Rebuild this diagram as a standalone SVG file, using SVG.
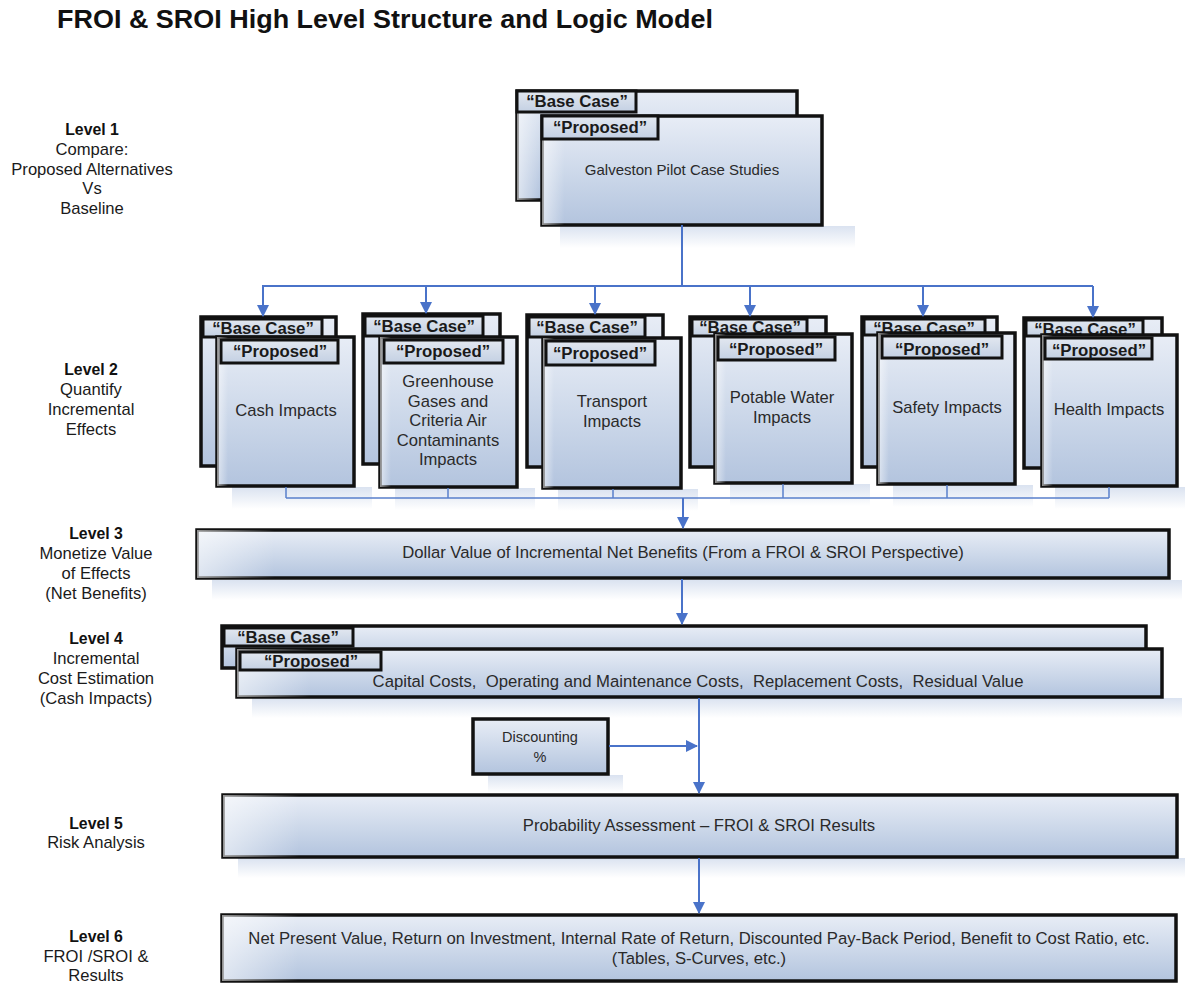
<svg xmlns="http://www.w3.org/2000/svg" width="1185" height="983" viewBox="0 0 1185 983">
  <defs>
    <linearGradient id="boxFill" x1="0" y1="0" x2="0" y2="1">
      <stop offset="0" stop-color="#e8edf6"/>
      <stop offset="0.55" stop-color="#cbd7e9"/>
      <stop offset="1" stop-color="#b3c4de"/>
    </linearGradient>
    <linearGradient id="tabFill" x1="0" y1="0" x2="0" y2="1">
      <stop offset="0" stop-color="#e3e8f0"/>
      <stop offset="1" stop-color="#c3d0e3"/>
    </linearGradient>
    <linearGradient id="edgeGlow" x1="0" y1="0" x2="1" y2="0">
      <stop offset="0" stop-color="#ffffff" stop-opacity="0.55"/>
      <stop offset="0.08" stop-color="#ffffff" stop-opacity="0"/>
    </linearGradient>
    <linearGradient id="reflect" x1="0" y1="0" x2="0" y2="1">
      <stop offset="0" stop-color="#bccbe4" stop-opacity="0.55"/>
      <stop offset="1" stop-color="#bccbe4" stop-opacity="0"/>
    </linearGradient>
    <marker id="arrow" viewBox="0 0 12 12" refX="11" refY="6" markerWidth="12" markerHeight="12" markerUnits="userSpaceOnUse" orient="auto">
      <path d="M0,0 L12,6 L0,12 Z" fill="#4a73c9"/>
    </marker>
    <style>
      .box { fill: url(#boxFill); stroke: #111; stroke-width: 3.5; }
      .tab { fill: url(#tabFill); stroke: #111; stroke-width: 3; }
      .glow { fill: url(#edgeGlow); stroke: none; }
      .refl { fill: url(#reflect); stroke: none; }
      .tabtxt { font-family: "Liberation Sans", Arial, sans-serif; font-weight: bold; font-size: 16.8px; fill: #1a1a1a; text-anchor: middle; }
      .txt { font-family: "Liberation Sans", Arial, sans-serif; font-size: 16.6px; fill: #2a2a2a; text-anchor: middle; }
      .txt15 { font-family: "Liberation Sans", Arial, sans-serif; font-size: 15px; fill: #2a2a2a; text-anchor: middle; white-space: pre; }
      .txtw { font-family: "Liberation Sans", Arial, sans-serif; font-size: 16.7px; fill: #2a2a2a; text-anchor: middle; white-space: pre; }
      .lbl { font-family: "Liberation Sans", Arial, sans-serif; font-size: 16.6px; fill: #1a1a1a; text-anchor: middle; }
      .lblb { font-family: "Liberation Sans", Arial, sans-serif; font-size: 15.8px; font-weight: bold; fill: #111; text-anchor: middle; }
      .title { font-family: "Liberation Sans", Arial, sans-serif; font-size: 25px; font-weight: bold; fill: #111; }
      .conn { fill: none; stroke: #4a73c9; stroke-width: 2; }
      .conn-thin { fill: none; stroke: #5a80cc; stroke-width: 1.5; }
    </style>
  </defs>

  <rect width="1185" height="983" fill="#ffffff"/>

  <text class="title" x="57" y="28" textLength="656" lengthAdjust="spacingAndGlyphs">FROI &amp; SROI High Level Structure and Logic Model</text>

  <!-- level captions on the left -->
  <g id="captions">
    <text class="lblb" x="92" y="135">Level 1</text>
    <text class="lbl" x="92" y="155">Compare:</text>
    <text class="lbl" x="92" y="175">Proposed Alternatives</text>
    <text class="lbl" x="92" y="194">Vs</text>
    <text class="lbl" x="92" y="214">Baseline</text>

    <text class="lblb" x="91" y="375">Level 2</text>
    <text class="lbl" x="91" y="395">Quantify</text>
    <text class="lbl" x="91" y="415">Incremental</text>
    <text class="lbl" x="91" y="435">Effects</text>

    <text class="lblb" x="96" y="539">Level 3</text>
    <text class="lbl" x="96" y="559">Monetize Value</text>
    <text class="lbl" x="96" y="579">of Effects</text>
    <text class="lbl" x="96" y="599">(Net Benefits)</text>

    <text class="lblb" x="96" y="644">Level 4</text>
    <text class="lbl" x="96" y="664">Incremental</text>
    <text class="lbl" x="96" y="684">Cost Estimation</text>
    <text class="lbl" x="96" y="704">(Cash Impacts)</text>

    <text class="lblb" x="96" y="829">Level 5</text>
    <text class="lbl" x="96" y="848">Risk Analysis</text>

    <text class="lblb" x="96" y="942">Level 6</text>
    <text class="lbl" x="96" y="962">FROI /SROI &amp;</text>
    <text class="lbl" x="96" y="981">Results</text>
  </g>

  <!-- soft reflections under the boxes -->
  <g id="reflections">
    <rect class="refl" x="560" y="226" width="295" height="22"/>
    <rect class="refl" x="232" y="487" width="140" height="22"/>
    <rect class="refl" x="395" y="488" width="140" height="22"/>
    <rect class="refl" x="558" y="489" width="140" height="22"/>
    <rect class="refl" x="730" y="484" width="140" height="22"/>
    <rect class="refl" x="893" y="485" width="140" height="22"/>
    <rect class="refl" x="1055" y="487" width="130" height="22"/>
    <rect class="refl" x="212" y="580" width="970" height="20"/>
    <rect class="refl" x="252" y="698" width="930" height="20"/>
    <rect class="refl" x="488" y="775" width="135" height="18"/>
    <rect class="refl" x="238" y="858" width="947" height="20"/>
  </g>

  <!-- Level 1 -->
  <g id="level1">
    <rect class="box" x="517" y="91" width="280" height="109"/>
    <rect class="glow" x="517" y="91" width="280" height="109"/>
    <rect class="tab" x="517" y="91" width="119" height="21"/>
    <text class="tabtxt" x="577" y="107">“Base Case”</text>
    <rect class="box" x="542" y="116" width="280" height="109"/>
    <rect class="glow" x="542" y="116" width="280" height="109"/>
    <rect class="tab" x="542" y="116" width="116" height="23"/>
    <text class="tabtxt" x="600" y="133">“Proposed”</text>
    <text class="txt15" x="682" y="175">Galveston Pilot Case Studies</text>
  </g>

  <!-- Level 2: impact categories -->
  <g id="cash">
    <rect class="box" x="201" y="317" width="135" height="149"/>
    <rect class="tab" x="203" y="319" width="119" height="18"/>
    <text class="tabtxt" x="263" y="334">“Base Case”</text>
    <rect class="box" x="217" y="337" width="137" height="149"/>
    <rect class="glow" x="217" y="337" width="137" height="149"/>
    <rect class="tab" x="221" y="340" width="117" height="23"/>
    <text class="tabtxt" x="280" y="357">“Proposed”</text>
    <text class="txt" x="286" y="416">Cash Impacts</text>
  </g>

  <g id="ghg">
    <rect class="box" x="363" y="314" width="137" height="150"/>
    <rect class="tab" x="365" y="316" width="118" height="20"/>
    <text class="tabtxt" x="424" y="332">“Base Case”</text>
    <rect class="box" x="380" y="337" width="137" height="150"/>
    <rect class="glow" x="380" y="337" width="137" height="150"/>
    <rect class="tab" x="384" y="340" width="119" height="23"/>
    <text class="tabtxt" x="443" y="357">“Proposed”</text>
    <text class="txt" x="448" y="387">Greenhouse</text>
    <text class="txt" x="448" y="407">Gases and</text>
    <text class="txt" x="448" y="426">Criteria Air</text>
    <text class="txt" x="448" y="446">Contaminants</text>
    <text class="txt" x="448" y="465">Impacts</text>
  </g>

  <g id="transport">
    <rect class="box" x="527" y="315" width="136" height="152"/>
    <rect class="tab" x="529" y="317" width="116" height="20"/>
    <text class="tabtxt" x="587" y="333">“Base Case”</text>
    <rect class="box" x="543" y="338" width="138" height="150"/>
    <rect class="glow" x="543" y="338" width="138" height="150"/>
    <rect class="tab" x="546" y="341" width="109" height="24"/>
    <text class="tabtxt" x="600" y="359">“Proposed”</text>
    <text class="txt" x="612" y="407">Transport</text>
    <text class="txt" x="612" y="427">Impacts</text>
  </g>

  <g id="water">
    <rect class="box" x="690" y="317" width="136" height="150"/>
    <rect class="tab" x="692" y="319" width="115" height="17"/>
    <text class="tabtxt" x="750" y="333">“Base Case”</text>
    <rect class="box" x="715" y="334" width="137" height="149"/>
    <rect class="glow" x="715" y="334" width="137" height="149"/>
    <rect class="tab" x="718" y="337" width="117" height="23"/>
    <text class="tabtxt" x="776" y="355">“Proposed”</text>
    <text class="txt" x="782" y="403">Potable Water</text>
    <text class="txt" x="782" y="423">Impacts</text>
  </g>

  <g id="safety">
    <rect class="box" x="862" y="317" width="135" height="150"/>
    <rect class="tab" x="864" y="319" width="121" height="16"/>
    <text class="tabtxt" x="924" y="334">“Base Case”</text>
    <rect class="box" x="878" y="333" width="137" height="151"/>
    <rect class="glow" x="878" y="333" width="137" height="151"/>
    <rect class="tab" x="882" y="336" width="120" height="22"/>
    <text class="tabtxt" x="942" y="354.5">“Proposed”</text>
    <text class="txt" x="947" y="413">Safety Impacts</text>
  </g>

  <g id="health">
    <rect class="box" x="1024" y="318" width="138" height="150"/>
    <rect class="tab" x="1026" y="320" width="117" height="16"/>
    <text class="tabtxt" x="1085" y="335">“Base Case”</text>
    <rect class="box" x="1042" y="335" width="135" height="151"/>
    <rect class="glow" x="1042" y="335" width="135" height="151"/>
    <rect class="tab" x="1045" y="338" width="107" height="21"/>
    <text class="tabtxt" x="1099" y="355.5">“Proposed”</text>
    <text class="txt" x="1109" y="415">Health Impacts</text>
  </g>

  <!-- Level 3 -->
  <g id="level3">
    <rect class="box" x="197" y="530" width="972" height="48"/>
    <rect class="glow" x="197" y="530" width="972" height="48"/>
    <text class="txtw" x="683" y="558">Dollar Value of Incremental Net Benefits (From a FROI &amp; SROI Perspective)</text>
  </g>

  <!-- Level 4 -->
  <g id="level4">
    <rect class="box" x="222" y="626" width="924" height="42"/>
    <rect class="tab" x="224" y="628" width="129" height="18"/>
    <text class="tabtxt" x="288" y="643">“Base Case”</text>
    <rect class="box" x="237" y="649" width="925" height="48"/>
    <rect class="glow" x="237" y="649" width="925" height="48"/>
    <rect class="tab" x="240" y="652" width="141" height="18"/>
    <text class="tabtxt" x="311" y="667">“Proposed”</text>
    <text class="txtw" x="698" y="687">Capital Costs,  Operating and Maintenance Costs,  Replacement Costs,  Residual Value</text>
  </g>

  <g id="discounting">
    <rect class="box" x="473" y="719" width="135" height="55"/>
    <text class="txt15" x="540" y="742" style="font-size:14.5px">Discounting</text>
    <text class="txt15" x="540" y="762" style="font-size:14.5px">%</text>
  </g>

  <!-- Level 5 -->
  <g id="level5">
    <rect class="box" x="223" y="795" width="954" height="62"/>
    <rect class="glow" x="223" y="795" width="954" height="62"/>
    <text class="txtw" x="699" y="831">Probability Assessment – FROI &amp; SROI Results</text>
  </g>

  <!-- Level 6 -->
  <g id="level6">
    <rect class="box" x="222" y="915" width="954" height="66"/>
    <rect class="glow" x="222" y="915" width="954" height="66"/>
    <text class="txtw" x="699" y="944">Net Present Value, Return on Investment, Internal Rate of Return, Discounted Pay-Back Period, Benefit to Cost Ratio, etc.</text>
    <text class="txtw" x="699" y="964">(Tables, S-Curves, etc.)</text>
  </g>

  <!-- connectors -->
  <g id="connectors">
    <path class="conn" d="M682,225 V286 M262,286 H1093"/>
    <path class="conn" d="M263,286 V316" marker-end="url(#arrow)"/>
    <path class="conn" d="M426,286 V313" marker-end="url(#arrow)"/>
    <path class="conn" d="M595,286 V314" marker-end="url(#arrow)"/>
    <path class="conn" d="M750,286 V316" marker-end="url(#arrow)"/>
    <path class="conn" d="M923,286 V316" marker-end="url(#arrow)"/>
    <path class="conn" d="M1093,286 V317" marker-end="url(#arrow)"/>

    <path class="conn-thin" d="M286,487 V498 M448,488 V498 M613,489 V498 M783,484 V498 M947,485 V498 M1109,487 V498 M286,498 H1109"/>
    <path class="conn" d="M683,498 V528" marker-end="url(#arrow)"/>

    <path class="conn" d="M682,579 V624" marker-end="url(#arrow)"/>
    <path class="conn" d="M699,698 V793" marker-end="url(#arrow)"/>
    <path class="conn" d="M609,746 H697" marker-end="url(#arrow)"/>
    <path class="conn" d="M699,858 V913" marker-end="url(#arrow)"/>
  </g>
</svg>
